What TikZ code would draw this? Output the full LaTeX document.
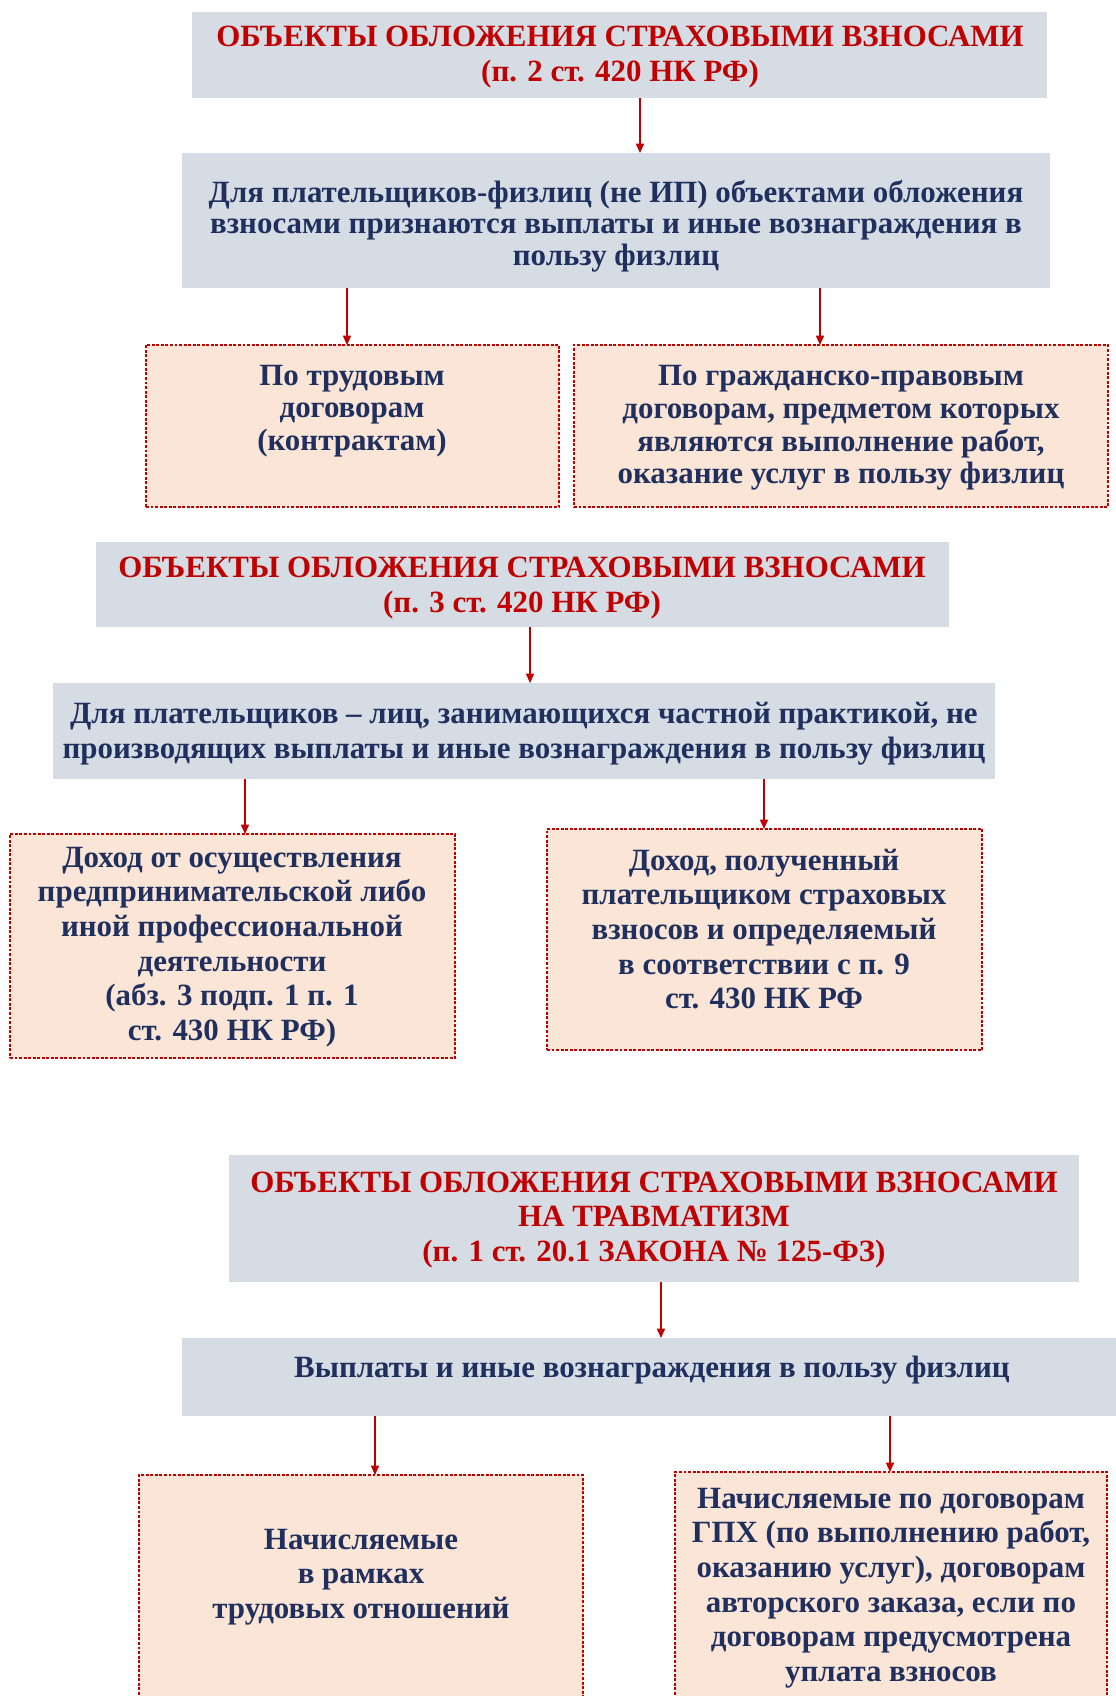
\documentclass[tikz,border=0pt]{standalone}
\usepackage{fontspec}
\setmainfont{Liberation Serif}
\usetikzlibrary{arrows.meta}
\definecolor{boxgray}{HTML}{D6DCE4}
\definecolor{boxpeach}{HTML}{FBE5D6}
\definecolor{darkred}{HTML}{C00000}
\definecolor{navytext}{HTML}{1F2F5E}
\newcommand\mybox[6]{%
  \node[#2, minimum width={(#5-#3)*0.75pt}, minimum height={(#6-#4)*0.75pt}]
    (#1) at ({(#3+#5)/2},{(#4+#6)/2}) {};}
\tikzset{
  graybox/.style={fill=boxgray, draw=none, inner sep=0pt, outer sep=0pt},
  peachbox/.style={fill=boxpeach, draw=darkred, line width=0.8pt,
    dash pattern=on 2.2pt off 1.2pt, inner sep=0pt, outer sep=0pt},
  txt/.style={font=\bfseries\fontsize{23.2}{26}\selectfont, align=center, inner sep=0pt},
  ttl/.style={txt, text=darkred},
  body/.style={txt, text=navytext},
  arr/.style={draw=darkred, line width=1.1pt, -{Triangle[length=7pt,width=6pt]}}
}
\begin{document}
\begin{tikzpicture}[x=0.75pt,y=-0.75pt]
\useasboundingbox[fill=white] (0,0) rectangle (1115,1696);
% boxes
\mybox{b1}{graybox}{192}{12}{1047}{98}
\mybox{b2}{graybox}{182}{153}{1050}{288}
\mybox{b3}{peachbox}{146}{345}{559}{507}
\mybox{b4}{peachbox}{574}{345}{1108}{507}
\mybox{b5}{graybox}{96}{542}{949}{627}
\mybox{b6}{graybox}{53}{683}{995}{779}
\mybox{b7}{peachbox}{10}{834}{455}{1058}
\mybox{b8}{peachbox}{547}{829}{982}{1050}
\mybox{b9}{graybox}{229}{1155}{1079}{1282}
\mybox{b10}{graybox}{182}{1338}{1130}{1416}
\mybox{b11}{peachbox}{139}{1475}{583}{1712}
\mybox{b12}{peachbox}{675}{1472}{1107}{1712}
% texts
\node[ttl] (t1) at (620,57) {ОБЪЕКТЫ ОБЛОЖЕНИЯ СТРАХОВЫМИ ВЗНОСАМИ\\(п. 2 ст. 420 НК РФ)};
\node[body, font=\bfseries\fontsize{23.2}{23.5}\selectfont] (t2) at (616,226) {Для плательщиков-физлиц (не ИП) объектами обложения\\взносами признаются выплаты и иные вознаграждения в\\пользу физлиц};
\node[body, font=\bfseries\fontsize{23.2}{24.5}\selectfont] (t3) at (352,411) {По трудовым\\договорам\\(контрактам)};
\node[body, font=\bfseries\fontsize{23.2}{24.5}\selectfont] (t4) at (841,428) {По гражданско-правовым\\договорам, предметом которых\\являются выполнение работ,\\оказание услуг в пользу физлиц};
\node[ttl] (t5) at (522,588) {ОБЪЕКТЫ ОБЛОЖЕНИЯ СТРАХОВЫМИ ВЗНОСАМИ\\(п. 3 ст. 420 НК РФ)};
\node[body] (t6) at (524,734) {Для плательщиков – лиц, занимающихся частной практикой, не\\производящих выплаты и иные вознаграждения в пользу физлиц};
\node[body] (t7) at (232,947) {Доход от осуществления\\предпринимательской либо\\иной профессиональной\\деятельности\\(абз. 3 подп. 1 п. 1\\ст. 430 НК РФ)};
\node[body] (t8) at (764,929) {Доход, полученный\\плательщиком страховых\\взносов и определяемый\\в соответствии с п. 9\\ст. 430 НК РФ};
\node[ttl] (t9) at (654,1220) {ОБЪЕКТЫ ОБЛОЖЕНИЯ СТРАХОВЫМИ ВЗНОСАМИ\\НА ТРАВМАТИЗМ\\(п. 1 ст. 20.1 ЗАКОНА № 125-ФЗ)};
\node[body] (t10) at (652,1370) {Выплаты и иные вознаграждения в пользу физлиц};
\node[body] (t11) at (361,1577) {Начисляемые\\в рамках\\трудовых отношений};
\node[body] (t12) at (891,1588) {Начисляемые по договорам\\ГПХ (по выполнению работ,\\оказанию услуг), договорам\\авторского заказа, если по\\договорам предусмотрена\\уплата взносов};
% connector x positions
\coordinate (x1) at (640,0);
\coordinate (x2) at (347,0);
\coordinate (x3) at (820,0);
\coordinate (x4) at (530,0);
\coordinate (x5) at (245,0);
\coordinate (x6) at (764,0);
\coordinate (x7) at (661,0);
\coordinate (x8) at (375,0);
\coordinate (x9) at (890,0);
% connectors
\draw[arr] (b1.south -| x1) -- (b2.north -| x1);
\draw[arr] (b2.south -| x2) -- (b3.north -| x2);
\draw[arr] (b2.south -| x3) -- (b4.north -| x3);
\draw[arr] (b5.south -| x4) -- (b6.north -| x4);
\draw[arr] (b6.south -| x5) -- (b7.north -| x5);
\draw[arr] (b6.south -| x6) -- (b8.north -| x6);
\draw[arr] (b9.south -| x7) -- (b10.north -| x7);
\draw[arr] (b10.south -| x8) -- (b11.north -| x8);
\draw[arr] (b10.south -| x9) -- (b12.north -| x9);
\end{tikzpicture}
\end{document}
